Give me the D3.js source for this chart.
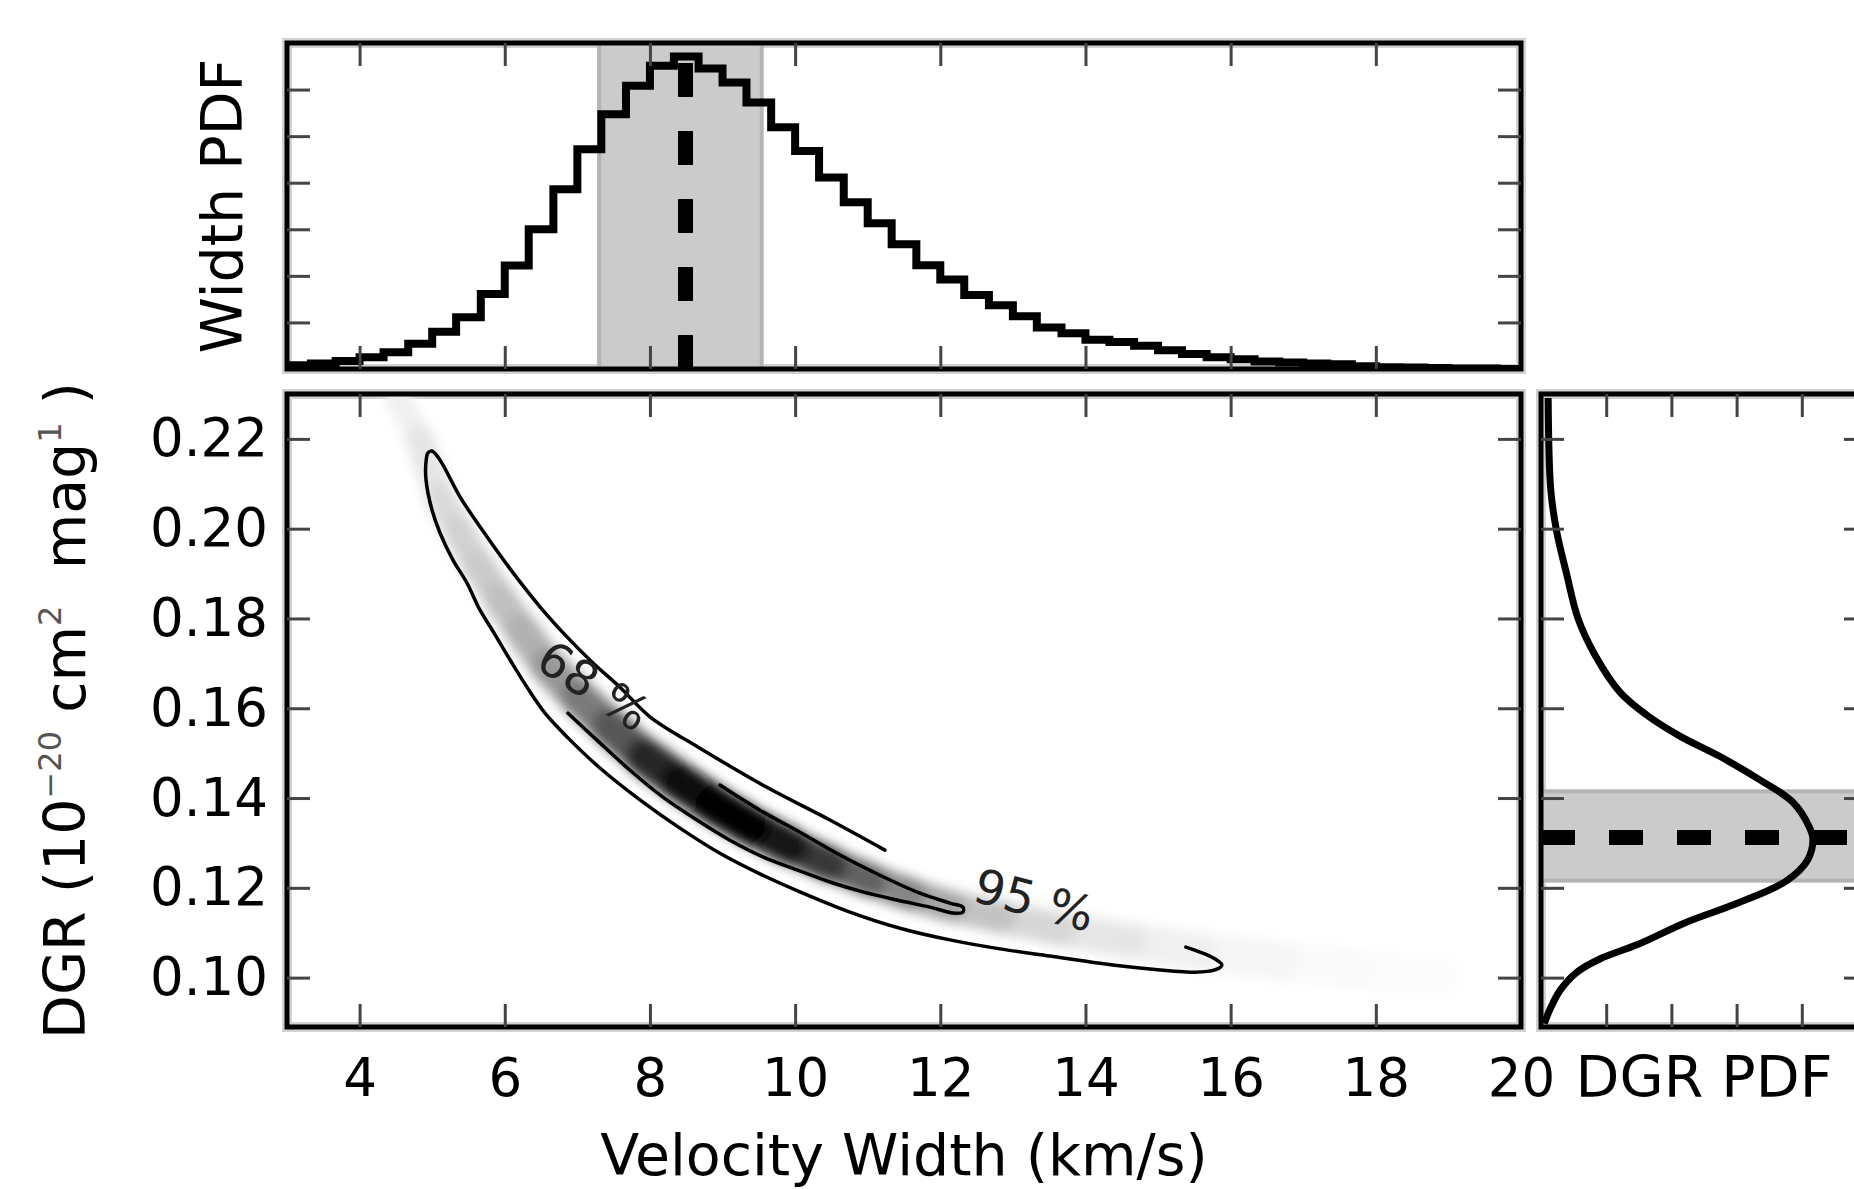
<!DOCTYPE html>
<html>
<head>
<meta charset="utf-8">
<script src="https://cdnjs.cloudflare.com/ajax/libs/d3/7.8.5/d3.min.js"></script>
<style>
  body { margin: 0; background: #fff; }
  svg { display: block; font-family: "DejaVu Sans", sans-serif; }
</style>
</head>
<body>
<div id="chart"></div>
<script>
// ---- marginal of the velocity width: histogram (bin left edges, km/s) ----
var widthBins = [3.00, 3.33, 3.67, 4.00, 4.33, 4.67, 5.00, 5.33, 5.67, 6.00,
                 6.33, 6.67, 7.00, 7.33, 7.67, 8.00, 8.33, 8.67, 9.00, 9.33,
                 9.67, 10.00, 10.33, 10.67, 11.00, 11.33, 11.67, 12.00, 12.33, 12.67,
                 13.00, 13.33, 13.67, 14.00, 14.33, 14.67, 15.00, 15.33, 15.67, 16.00,
                 16.33, 16.67, 17.00, 17.33, 17.67, 18.00, 18.33, 18.67, 19.00, 19.33,
                 19.67];
var widthBinEnd = 20.00;
var widthPdf = [0.08, 0.12, 0.17, 0.25, 0.36, 0.54, 0.80, 1.11, 1.61, 2.22,
                3.00, 3.86, 4.72, 5.47, 6.08, 6.51, 6.71, 6.45, 6.15, 5.72,
                5.19, 4.68, 4.11, 3.58, 3.13, 2.68, 2.23, 1.92, 1.59, 1.37,
                1.13, 0.89, 0.77, 0.63, 0.58, 0.50, 0.40, 0.32, 0.25, 0.21,
                0.16, 0.14, 0.12, 0.10, 0.06, 0.04, 0.03, 0.02, 0.01, 0.01,
                0.00];
var widthBest = 8.49, widthLo = 7.30, widthHi = 9.54;

// ---- marginal of the DGR ----
var dgrPdfDgr = [0.2291, 0.2086, 0.1994, 0.1901, 0.1799, 0.1718, 0.1636, 0.1585, 0.1538, 0.1493,
                 0.1441, 0.1391, 0.1334, 0.1309, 0.1262, 0.1216, 0.1165, 0.1124, 0.1073, 0.1042,
                 0.1012, 0.0971, 0.0930, 0.0898];
var dgrPdfVal = [0.11, 0.15, 0.24, 0.39, 0.57, 0.83, 1.21, 1.62, 2.13, 2.74,
                 3.35, 3.86, 4.12, 4.17, 4.09, 3.77, 3.00, 2.24, 1.47, 0.91,
                 0.55, 0.29, 0.14, 0.05];
var dgrBest = 0.1312, dgrLo = 0.1216, dgrHi = 0.1415;

// ---- joint posterior: 95 % contour (open where its label sits) ----
var c95Width = [11.237, 10.479, 9.598, 8.689, 8.000, 7.587, 7.215, 6.857, 6.485, 6.113,
                5.755, 5.383, 5.107, 4.997, 4.942, 4.915, 4.915, 4.997, 5.107, 5.287,
                5.479, 5.658, 5.851, 6.072, 6.306, 6.554, 6.871, 7.311, 7.862, 8.413,
                8.964, 9.515, 10.066, 10.755, 11.444, 12.132, 12.821, 13.510, 14.198, 14.887,
                15.507, 15.782, 15.879, 15.769, 15.576, 15.383];
var c95Dgr = [0.1284, 0.1351, 0.1425, 0.1511, 0.1581, 0.1647, 0.1701, 0.1759, 0.1826, 0.1902,
              0.1982, 0.2071, 0.2153, 0.2173, 0.2169, 0.2149, 0.2109, 0.2042, 0.1991, 0.1930,
              0.1879, 0.1819, 0.1768, 0.1708, 0.1647, 0.1589, 0.1534, 0.1467, 0.1396, 0.1333,
              0.1277, 0.1231, 0.1191, 0.1146, 0.1110, 0.1084, 0.1064, 0.1048, 0.1032, 0.1019,
              0.1012, 0.1017, 0.1028, 0.1043, 0.1057, 0.1068];

// ---- 68 % contour ----
var c68Width = [6.871, 7.270, 7.725, 8.179, 8.647, 9.102, 9.556, 10.025, 10.479, 10.934,
                11.402, 11.857, 12.174, 12.311, 12.311, 12.132, 11.719, 11.168, 10.617, 10.066,
                9.515, 8.964];
var c68Dgr = [0.1589, 0.1529, 0.1462, 0.1402, 0.1351, 0.1306, 0.1269, 0.1240, 0.1213, 0.1191,
              0.1173, 0.1157, 0.1144, 0.1146, 0.1157, 0.1166, 0.1188, 0.1228, 0.1273, 0.1324,
              0.1373, 0.1429];

// ---- ridge of the joint density (greyscale image) ----
var ridgeWidth = [4.529, 4.832, 5.107, 5.355, 5.631, 5.934, 6.237, 6.595, 7.008, 7.449,
                  7.931, 8.413, 8.895, 9.377, 9.928, 10.479, 11.030, 11.581, 12.132, 12.821,
                  13.647, 14.612, 15.576, 16.678, 17.780, 18.882];
var ridgeDgr = [0.2292, 0.2198, 0.2071, 0.1997, 0.1919, 0.1843, 0.1772, 0.1694, 0.1625, 0.1558,
                0.1491, 0.1436, 0.1384, 0.1338, 0.1293, 0.1253, 0.1217, 0.1186, 0.1159, 0.1135,
                0.1108, 0.1081, 0.1059, 0.1037, 0.1019, 0.1003];
var ridgeDensity = [0.08, 0.15, 0.22, 0.26, 0.30, 0.33, 0.38, 0.45, 0.54, 0.66,
                    0.80, 0.94, 1.00, 0.98, 0.88, 0.76, 0.62, 0.50, 0.40, 0.30,
                    0.21, 0.14, 0.09, 0.05, 0.03, 0.015];
var ridgeSpread = [0.0055, 0.0060, 0.0065, 0.0068, 0.0070, 0.0072, 0.0075, 0.0078, 0.0080, 0.0082,
                   0.0085, 0.0085, 0.0085, 0.0085, 0.0080, 0.0075, 0.0072, 0.0070, 0.0070, 0.0072,
                   0.0075, 0.0080, 0.0085, 0.0090, 0.0090, 0.0090];

var contourLabels = [
  {text: "68 %", w: 7.229, d: 0.1650, angle: 33},
  {text: "95 %", w: 13.296, d: 0.1173, angle: 15}
];

// ticks
var widthTicks = [4, 6, 8, 10, 12, 14, 16, 18];
var widthTickLabels = [4, 6, 8, 10, 12, 14, 16, 18, 20];
var dgrTicks = [0.10, 0.12, 0.14, 0.16, 0.18, 0.20, 0.22];
var widthPdfTicks = [1, 2, 3, 4, 5, 6];
var dgrPdfTicks = [1, 2, 3, 4];

// ---- scales ----
var x = d3.scaleLinear().domain([3, 20]).range([287, 1521]);
var yTop = d3.scaleLinear().domain([0, 7]).range([369, 43]);
var y = d3.scaleLinear().domain([0.089, 0.230]).range([1027, 394]);
var xRight = d3.scaleLinear().domain([0, 5]).range([1541, 1867]);

var svg = d3.select("#chart").append("svg")
            .attr("width", 1854)
            .attr("height", 1189);

var defs = svg.append("defs");
defs.append("clipPath").attr("id", "clipMain").append("rect")
    .attr("x", x.range()[0]).attr("y", y.range()[1])
    .attr("width", x.range()[1] - x.range()[0])
    .attr("height", y.range()[0] - y.range()[1]);
defs.append("clipPath").attr("id", "clipTop").append("rect")
    .attr("x", x.range()[0]).attr("y", yTop.range()[1])
    .attr("width", x.range()[1] - x.range()[0])
    .attr("height", yTop.range()[0] - yTop.range()[1]);
defs.append("clipPath").attr("id", "clipRight").append("rect")
    .attr("x", xRight.range()[0]).attr("y", y.range()[1])
    .attr("width", xRight.range()[1] - xRight.range()[0])
    .attr("height", y.range()[0] - y.range()[1]);
var blur = defs.append("filter").attr("id", "blur")
    .attr("x", "-20%").attr("y", "-20%").attr("width", "140%").attr("height", "140%");
blur.append("feGaussianBlur").attr("stdDeviation", 6);

// grey halo behind each frame (the source is an upscaled raster)
function frameHalo(xs, ys) {
  svg.append("rect")
     .attr("x", xs.range()[0]).attr("y", ys.range()[1])
     .attr("width", xs.range()[1] - xs.range()[0])
     .attr("height", ys.range()[0] - ys.range()[1])
     .attr("fill", "#fff").attr("stroke", "#d2d2d2").attr("stroke-width", 10);
}

function frame(xs, ys) {
  svg.append("rect")
     .attr("x", xs.range()[0]).attr("y", ys.range()[1])
     .attr("width", xs.range()[1] - xs.range()[0])
     .attr("height", ys.range()[0] - ys.range()[1])
     .attr("fill", "none").attr("stroke", "#000").attr("stroke-width", 5);
}

// inward ticks on all four sides
function ticks(xs, ys, xt, yt) {
  var gs = [
    svg.append("g").attr("transform", "translate(0," + ys.range()[0] + ")")
       .call(d3.axisBottom(xs).tickValues(xt).tickSize(-23).tickFormat("")),
    svg.append("g").attr("transform", "translate(0," + ys.range()[1] + ")")
       .call(d3.axisTop(xs).tickValues(xt).tickSize(-23).tickFormat("")),
    svg.append("g").attr("transform", "translate(" + xs.range()[0] + ",0)")
       .call(d3.axisLeft(ys).tickValues(yt).tickSize(-23).tickFormat("")),
    svg.append("g").attr("transform", "translate(" + xs.range()[1] + ",0)")
       .call(d3.axisRight(ys).tickValues(yt).tickSize(-23).tickFormat(""))
  ];
  gs.forEach(function(g) {
    g.select(".domain").remove();
    g.selectAll("line").attr("stroke", "#444").attr("stroke-width", 3);
  });
}

// ================= top panel: width PDF =================
frameHalo(x, yTop);
var topG = svg.append("g").attr("clip-path", "url(#clipTop)");

topG.append("rect")
    .attr("x", x(widthLo)).attr("y", yTop.range()[1])
    .attr("width", x(widthHi) - x(widthLo))
    .attr("height", yTop.range()[0] - yTop.range()[1])
    .attr("fill", "#cbcbcb").attr("stroke", "#b4b4b4").attr("stroke-width", 4);

var histPts = widthBins.map(function(b, i) { return [b, widthPdf[i]]; });
histPts.push([widthBinEnd, widthPdf[widthPdf.length - 1]]);

topG.append("path")
    .datum(histPts)
    .attr("fill", "none").attr("stroke", "#000").attr("stroke-width", 8)
    .attr("d", d3.line()
                 .x(function(d) { return x(d[0]); })
                 .y(function(d) { return yTop(d[1]); })
                 .curve(d3.curveStepAfter));

topG.append("line")
    .attr("x1", x(widthBest)).attr("x2", x(widthBest))
    .attr("y1", yTop(0)).attr("y2", yTop(7))
    .attr("stroke", "#000").attr("stroke-width", 15)
    .attr("stroke-dasharray", "34,34");

frame(x, yTop);
ticks(x, yTop, widthTicks, widthPdfTicks);

// ================= main panel: joint posterior =================
frameHalo(x, y);
var mainG = svg.append("g").attr("clip-path", "url(#clipMain)");

var segs = d3.range(ridgeWidth.length - 1).map(function(i) {
  return {
    a: [ridgeWidth[i], ridgeDgr[i]],
    b: [ridgeWidth[i + 1], ridgeDgr[i + 1]],
    dens: (ridgeDensity[i] + ridgeDensity[i + 1]) / 2,
    spread: (ridgeSpread[i] + ridgeSpread[i + 1]) / 2
  };
}).sort(function(p, q) { return p.dens - q.dens; });

mainG.append("g").attr("filter", "url(#blur)")
     .selectAll("line")
     .data(segs)
     .enter().append("line")
     .attr("x1", function(d) { return x(d.a[0]); })
     .attr("y1", function(d) { return y(d.a[1]); })
     .attr("x2", function(d) { return x(d.b[0]); })
     .attr("y2", function(d) { return y(d.b[1]); })
     .attr("stroke", function(d) { return d3.interpolateGreys(d.dens); })
     .attr("stroke-width", function(d) { return y(0) - y(d.spread); })
     .attr("stroke-linecap", "round");

var contourLine = d3.line()
    .x(function(d) { return x(d[0]); })
    .y(function(d) { return y(d[1]); })
    .curve(d3.curveCatmullRom.alpha(0.5));

[[c95Width, c95Dgr], [c68Width, c68Dgr]].forEach(function(c) {
  mainG.append("path")
       .datum(c[0].map(function(w, i) { return [w, c[1][i]]; }))
       .attr("fill", "none").attr("stroke", "#000").attr("stroke-width", 3.5)
       .attr("stroke-linejoin", "round").attr("stroke-linecap", "round")
       .attr("d", contourLine);
});

mainG.selectAll(".clabel")
     .data(contourLabels)
     .enter().append("text")
     .attr("class", "clabel")
     .attr("transform", function(d) {
       return "translate(" + x(d.w) + "," + y(d.d) + ") rotate(" + d.angle + ")";
     })
     .attr("text-anchor", "middle")
     .attr("dominant-baseline", "central")
     .attr("font-size", 48)
     .attr("fill", "#222")
     .text(function(d) { return d.text; });

frame(x, y);
ticks(x, y, widthTicks, dgrTicks);

// ================= right panel: DGR PDF =================
frameHalo(xRight, y);
var rightG = svg.append("g").attr("clip-path", "url(#clipRight)");

rightG.append("rect")
      .attr("x", xRight.range()[0]).attr("y", y(dgrHi))
      .attr("width", xRight.range()[1] - xRight.range()[0])
      .attr("height", y(dgrLo) - y(dgrHi))
      .attr("fill", "#cbcbcb").attr("stroke", "#b4b4b4").attr("stroke-width", 4);

rightG.append("line")
      .attr("x1", xRight(0)).attr("x2", xRight(5))
      .attr("y1", y(dgrBest)).attr("y2", y(dgrBest))
      .attr("stroke", "#000").attr("stroke-width", 15)
      .attr("stroke-dasharray", "34,34");

rightG.append("path")
      .datum(dgrPdfDgr.map(function(d, i) { return [dgrPdfVal[i], d]; }))
      .attr("fill", "none").attr("stroke", "#000").attr("stroke-width", 7)
      .attr("d", d3.line()
                   .x(function(d) { return xRight(d[0]); })
                   .y(function(d) { return y(d[1]); })
                   .curve(d3.curveCatmullRom.alpha(0.5)));

frame(xRight, y);
ticks(xRight, y, dgrPdfTicks, dgrTicks);

// ================= tick labels and axis titles =================
var xLab = svg.append("g").attr("transform", "translate(0," + y.range()[0] + ")")
    .call(d3.axisBottom(x).tickValues(widthTickLabels).tickSize(0).tickPadding(31));
xLab.select(".domain").remove();
xLab.selectAll("text").attr("font-size", 53).attr("font-family", "DejaVu Sans").attr("fill", "#000");

var yLab = svg.append("g").attr("transform", "translate(" + x.range()[0] + ",0)")
    .call(d3.axisLeft(y).tickValues(dgrTicks).tickSize(0).tickPadding(19).tickFormat(d3.format(".2f")));
yLab.select(".domain").remove();
yLab.selectAll("text").attr("font-size", 53).attr("font-family", "DejaVu Sans").attr("fill", "#000");

svg.append("text")
   .attr("x", (x.range()[0] + x.range()[1]) / 2).attr("y", 1175)
   .attr("text-anchor", "middle").attr("font-size", 57)
   .text("Velocity Width (km/s)");

svg.append("text")
   .attr("x", (xRight.range()[0] + xRight.range()[1]) / 2).attr("y", 1097)
   .attr("text-anchor", "middle").attr("font-size", 57)
   .text("DGR PDF");

svg.append("text")
   .attr("transform", "translate(242," + (yTop.range()[0] + yTop.range()[1]) / 2 + ") rotate(-90)")
   .attr("text-anchor", "middle").attr("font-size", 57)
   .text("Width PDF");

var yLabelParts = [
  {t: "DGR (10", sup: false}, {t: "\u221220", sup: true}, {t: " cm", sup: false},
  {t: "2", sup: true}, {t: "  mag", sup: false}, {t: "1", sup: true}, {t: " )", sup: false}
];
var yTitle = svg.append("text")
   .attr("transform", "translate(85," + (y.range()[0] + y.range()[1]) / 2 + ") rotate(-90)")
   .attr("text-anchor", "middle").attr("font-size", 57)
   .attr("xml:space", "preserve").style("white-space", "pre");
yLabelParts.forEach(function(p, i) {
  var prevSup = i > 0 && yLabelParts[i - 1].sup;
  var ts = yTitle.append("tspan").text(p.t);
  if (p.sup) ts.attr("font-size", 32).attr("fill", "#555").attr("dy", -24);
  else if (prevSup) ts.attr("dy", 24);
});
</script>
</body>
</html>
